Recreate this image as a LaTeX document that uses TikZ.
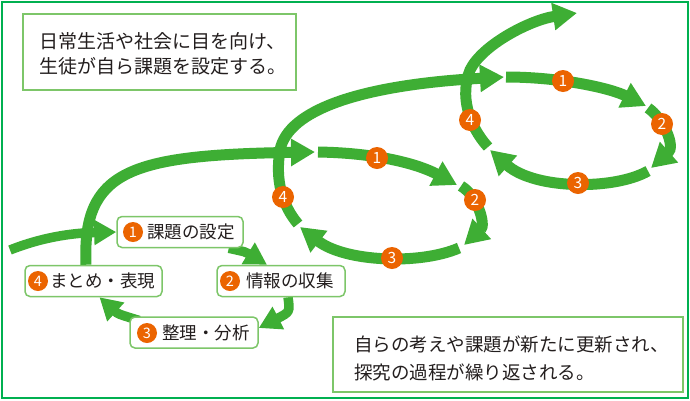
\documentclass[tikz,border=0pt]{standalone}
\usepackage{fontspec}
\setmainfont{Noto Sans CJK JP}
\usetikzlibrary{arrows.meta}
\definecolor{arrowgreen}{RGB}{62,174,52}
\definecolor{framegreen}{RGB}{0,176,80}
\definecolor{boxgreen}{RGB}{125,198,105}
\definecolor{numorange}{RGB}{235,100,0}
\definecolor{textdark}{RGB}{35,30,30}
\tikzset{
  bigarrow/.style={draw=arrowgreen, line width=11pt, -{Triangle[length=24pt,width=26pt]}},
  smallarrow/.style={draw=arrowgreen, line width=9.5pt, -{Triangle[length=22pt,width=24pt]}},
  loopnum/.style={circle, fill=numorange, text=white, inner sep=0pt, minimum size=22pt, font=\fontsize{15.5pt}{15.5pt}\selectfont},
  boxnum/.style={circle, fill=numorange, text=white, inner sep=0pt, minimum size=20pt, font=\fontsize{14.5pt}{14.5pt}\selectfont},
  stagebox/.style={draw=boxgreen, line width=1.5pt, fill=white, rounded corners=5pt, inner sep=0pt, minimum height=31pt},
  stagelabel/.style={anchor=west, inner sep=0pt, text=textdark, font=\fontsize{17.5pt}{20pt}\selectfont},
  notebox/.style={draw=boxgreen, line width=1.5pt, fill=white, inner sep=0pt},
  notetext/.style={anchor=west, inner sep=0pt, align=left, text=textdark},
}
\begin{document}
\begin{tikzpicture}[x=1pt,y=-1pt]
\useasboundingbox (0,0) rectangle (690,400);
\fill[white] (0,0) rectangle (690,400);
\draw[framegreen, line width=2.5pt] (2,2) rectangle (688,398);

% ---- loop 1 boxes (positions) ----
\path
  (180,232) node[stagebox, minimum width=126pt, draw=none, fill=none] (b1) {}
  (281,281) node[stagebox, minimum width=128pt, draw=none, fill=none] (b2) {}
  (194,332.5) node[stagebox, minimum width=128pt, draw=none, fill=none] (b3) {}
  (93.5,281) node[stagebox, minimum width=137pt, draw=none, fill=none] (b4) {};

% ---- coordinates of loop 2 and 3 ----
\coordinate (start) at (10,250);
\coordinate (L2in) at (315,152);
\coordinate (L2s1) at (318,152);
\coordinate (L2e1) at (457,185);
\coordinate (L2s2) at (461,186);
\coordinate (L2e2) at (464,245);
\coordinate (L2s3) at (459,248);
\coordinate (L2e3) at (300,227);
\coordinate (L2s4) at (298,224);
\coordinate (L2up) at (280,150);
\coordinate (L3in) at (504,77);
\coordinate (L3s1) at (506,77);
\coordinate (L3e1) at (646,106);
\coordinate (L3s2) at (648,108);
\coordinate (L3e2) at (651,168);
\coordinate (L3s3) at (648,171);
\coordinate (L3e3) at (490,150);
\coordinate (L3s4) at (488,147);
\coordinate (L3up) at (470,70);
\coordinate (finish) at (577,13);

% ---- loop 1 arrows ----
\draw[smallarrow] (start) .. controls (40,238) and (70,233) .. (b1.west);
\draw[smallarrow] ([xshift=-15pt]b1.south east) .. controls (246,252) .. ([xshift=-14pt]b2.north);
\draw[smallarrow] ([xshift=7pt]b2.south) .. controls (290,312) .. ([yshift=4.5pt]b3.east);
\draw[smallarrow] ([xshift=10pt,yshift=12pt]b3.west) .. controls (118,314) .. ([xshift=6pt]b4.south);
\draw[bigarrow] ([xshift=-7.5pt]b4.north) .. controls (82,170) and (130,155) .. (L2in);

% ---- loop 2 arrows ----
\draw[bigarrow] (L2s1) .. controls (380,153) and (420,165) .. (L2e1);
\draw[bigarrow] (L2s2) .. controls (478,196) and (486,225) .. (L2e2);
\draw[bigarrow] (L2s3) .. controls (420,265) and (345,262) .. (L2e3);
\draw[bigarrow] (L2s4) .. controls (282,205) and (275,180) .. (L2up)
  .. controls (288,110) and (360,85) .. (L3in);

% ---- loop 3 arrows ----
\draw[bigarrow] (L3s1) .. controls (560,77) and (610,88) .. (L3e1);
\draw[bigarrow] (L3s2) .. controls (663,118) and (676,146) .. (L3e2);
\draw[bigarrow] (L3s3) .. controls (615,190) and (535,190) .. (L3e3);
\draw[bigarrow] (L3s4) .. controls (468,125) and (460,95) .. (L3up)
  .. controls (482,45) and (530,20) .. (finish);

% ---- loop numbers ----
\node[loopnum] (c21) at (377,158) {1};
\node[loopnum] (c22) at (475,200) {2};
\node[loopnum] (c23) at (392,258) {3};
\node[loopnum] (c24) at (283,197) {4};
\node[loopnum] (c31) at (563,81) {1};
\node[loopnum] (c32) at (662,124) {2};
\node[loopnum] (c33) at (578,183) {3};
\node[loopnum] (c34) at (470,120) {4};

% ---- loop 1 boxes (drawn) ----
\node[stagebox, minimum width=126pt] (d1) at (b1) {};
\node[stagebox, minimum width=128pt] (d2) at (b2) {};
\node[stagebox, minimum width=128pt] (d3) at (b3) {};
\node[stagebox, minimum width=137pt] (d4) at (b4) {};
\node[boxnum] (n1) at (133,232) {1};
\node[boxnum] (n2) at (230,281) {2};
\node[boxnum] (n3) at (147,333) {3};
\node[boxnum] (n4) at (38,281) {4};
\node[stagelabel] (t1) at (147,232) {課題の設定};
\node[stagelabel] (t2) at (246,281) {情報の収集};
\node[stagelabel] (t3) at (162,333) {整理・分析};
\node[stagelabel] (t4) at (50,281) {まとめ・表現};

% ---- note boxes ----
\node[notebox, minimum width=273pt, minimum height=76pt] (boxA) at (159.5,52) {};
\node[notetext, font=\fontsize{19pt}{25pt}\selectfont] (textA) at (39,53.5)
  {日常生活や社会に目を向け、\\生徒が自ら課題を設定する。};
\node[notebox, minimum width=350pt, minimum height=75pt] (boxB) at (508,354.5) {};
\node[notetext, font=\fontsize{18.5pt}{28pt}\selectfont] (textB) at (354,358)
  {自らの考えや課題が新たに更新され、\\探究の過程が繰り返される。};
\end{tikzpicture}
\end{document}
